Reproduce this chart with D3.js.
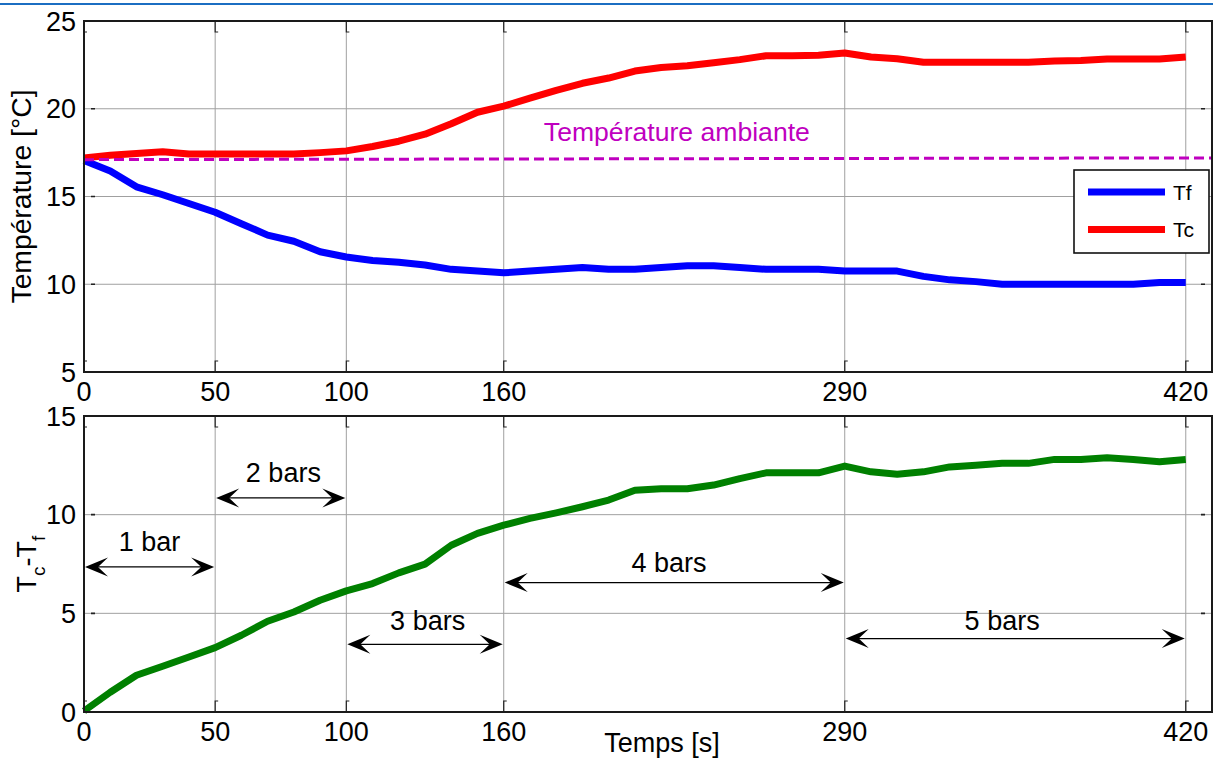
<!DOCTYPE html>
<html>
<head>
<meta charset="utf-8">
<script src="https://cdn.jsdelivr.net/npm/d3@7"></script>
<style>
  html, body { margin: 0; padding: 0; background: #fff; }
  svg { display: block; font-family: "Liberation Sans", Arial, Helvetica, sans-serif; }
</style>
</head>
<body>
<svg id="chart" width="1213" height="758"></svg>
<script>
// Sample times [s]
const time = [0, 10, 20, 30, 40, 50, 60, 70, 80, 90, 100, 110, 120, 130, 140, 150, 160, 170, 180, 190, 200,
  210, 220, 230, 240, 250, 260, 270, 280, 290, 300, 310, 320, 330, 340, 350, 360, 370, 380, 390, 400, 410, 420];

// Cold side temperature Tf [°C]
const tempFroide = [17.05, 16.45, 15.55, 15.1, 14.6, 14.1, 13.45, 12.8, 12.45, 11.85, 11.55, 11.35, 11.25, 11.1,
  10.85, 10.75, 10.65, 10.75, 10.85, 10.95, 10.85, 10.85, 10.95, 11.05, 11.05, 10.95, 10.85, 10.85, 10.85,
  10.75, 10.75, 10.75, 10.45, 10.25, 10.15, 10.0, 10.0, 10.0, 10.0, 10.0, 10.0, 10.1, 10.1];

// Hot side temperature Tc [°C]
const tempChaude = [17.2, 17.35, 17.45, 17.55, 17.42, 17.42, 17.42, 17.42, 17.42, 17.5, 17.6, 17.85, 18.15, 18.55,
  19.15, 19.8, 20.15, 20.6, 21.05, 21.45, 21.75, 22.15, 22.35, 22.45, 22.62, 22.8, 23.02, 23.02, 23.05,
  23.18, 22.95, 22.85, 22.65, 22.65, 22.65, 22.65, 22.65, 22.72, 22.75, 22.84, 22.84, 22.84, 22.95];

// Difference Tc - Tf [°C]
const ecart = [0.05, 1.0, 1.86, 2.32, 2.79, 3.26, 3.89, 4.6, 5.07, 5.66, 6.14, 6.51, 7.05, 7.49, 8.45, 9.05,
  9.47, 9.81, 10.09, 10.4, 10.74, 11.24, 11.31, 11.31, 11.5, 11.83, 12.12, 12.12, 12.12, 12.46, 12.17, 12.05,
  12.17, 12.42, 12.51, 12.6, 12.6, 12.8, 12.8, 12.88, 12.8, 12.68, 12.8];

// Ambient temperature reference line
const ambianteTime = [0, 430];
const ambianteTemp = [17.1, 17.2];

// Axis ticks
const xTicks = [0, 50, 100, 160, 290, 420];
const yTicksTop = [5, 10, 15, 20, 25];
const yTicksBottom = [0, 5, 10, 15];

// Pressure stages
const pressureLabels = ["1 bar", "2 bars", "3 bars", "4 bars", "5 bars"];
const pressureStart = [0, 50, 100, 160, 290];
const pressureEnd = [50, 100, 160, 290, 420];
const arrowLevel = [7.35, 10.85, 3.43, 6.56, 3.72];
const labelTime = [25, 76, 131, 223, 350];
const labelLevel = [8.15, 11.65, 4.15, 7.1, 4.15];

const svg = d3.select("#chart");
const W = 1213;

// Thin header rule
svg.append("line").attr("x1", 0).attr("x2", W).attr("y1", 4).attr("y2", 4)
  .attr("stroke", "#1b6ec2").attr("stroke-width", 2);

const x = d3.scaleLinear().domain([0, 430]).range([84, 1212]);
const yTop = d3.scaleLinear().domain([5, 25]).range([372, 21]);
const yBot = d3.scaleLinear().domain([0, 15]).range([712, 416]);

const FONT = 27;

function panel(y, yTicks) {
  const [y0, y1] = y.range();
  const [x0, x1] = x.range();
  const g = svg.append("g");
  // grid
  g.append("g").selectAll("line").data(xTicks).join("line")
    .attr("x1", d => x(d)).attr("x2", d => x(d)).attr("y1", y1).attr("y2", y0)
    .attr("stroke", "#a0a0a0").attr("stroke-width", 1);
  g.append("g").selectAll("line").data(yTicks).join("line")
    .attr("x1", x0).attr("x2", x1).attr("y1", d => y(d)).attr("y2", d => y(d))
    .attr("stroke", "#a0a0a0").attr("stroke-width", 1);
  return g;
}

function frame(y, yTicks) {
  const [y0, y1] = y.range();
  const [x0, x1] = x.range();
  const g = svg.append("g");
  const tl = 11;
  // inward tick marks
  g.append("g").selectAll("path").data(xTicks).join("path")
    .attr("d", d => `M${x(d) + 3},${y0 - tl}h-3v${tl} M${x(d) + 3},${y1 + tl}h-3v${-tl}`)
    .attr("fill", "none").attr("stroke", "#222").attr("stroke-width", 1.2);
  g.append("g").selectAll("path").data(yTicks).join("path")
    .attr("d", d => `M${x0 + tl - 4},${y(d)}h4 M${x1 - tl},${y(d)}h4`)
    .attr("fill", "none").attr("stroke", "#222").attr("stroke-width", 1.6);
  g.append("rect").attr("x", x0).attr("y", y1).attr("width", x1 - x0).attr("height", y0 - y1)
    .attr("fill", "none").attr("stroke", "#1a1a1a").attr("stroke-width", 2);
  // tick labels
  g.append("g").selectAll("text").data(xTicks).join("text")
    .attr("x", d => x(d)).attr("y", y0 + 29).attr("text-anchor", "middle")
    .attr("font-size", FONT).attr("fill", "#000").text(d => d);
  g.append("g").selectAll("text").data(yTicks).join("text")
    .attr("x", 76).attr("y", d => y(d)).attr("dy", "0.36em").attr("text-anchor", "end")
    .attr("font-size", FONT).attr("fill", "#000").text(d => d);
}

// ---------- top panel : temperatures ----------
panel(yTop, yTicksTop);

const lineTop = d3.line().x((d, i) => x(time[i])).y(d => yTop(d)).curve(d3.curveLinear);
svg.append("path").datum(tempFroide).attr("d", lineTop)
  .attr("fill", "none").attr("stroke", "#0000ff").attr("stroke-width", 7)
  .attr("stroke-linejoin", "round");
svg.append("path").datum(tempChaude).attr("d", lineTop)
  .attr("fill", "none").attr("stroke", "#ff0000").attr("stroke-width", 7)
  .attr("stroke-linejoin", "round");

const lineAmb = d3.line().x((d, i) => x(ambianteTime[i])).y(d => yTop(d));
svg.append("path").datum(ambianteTemp).attr("d", lineAmb)
  .attr("fill", "none").attr("stroke", "#bf00bf").attr("stroke-width", 3)
  .attr("stroke-dasharray", "10,5");

svg.append("text").attr("x", x(226)).attr("y", yTop(18.15))
  .attr("text-anchor", "middle").attr("font-size", 26).attr("fill", "#bf00bf")
  .attr("textLength", 266).attr("lengthAdjust", "spacingAndGlyphs")
  .text("Température ambiante");

frame(yTop, yTicksTop);

// legend
const leg = svg.append("g");
leg.append("rect").attr("x", 1074).attr("y", 170).attr("width", 135).attr("height", 83)
  .attr("fill", "#fff").attr("stroke", "#111").attr("stroke-width", 1.6);
const legendItems = [{ name: "Tf", color: "#0000ff" }, { name: "Tc", color: "#ff0000" }];
legendItems.forEach((it, i) => {
  const cy = 192 + i * 37.5;
  leg.append("line").attr("x1", 1088).attr("x2", 1165).attr("y1", cy).attr("y2", cy)
    .attr("stroke", it.color).attr("stroke-width", 7);
  leg.append("text").attr("x", 1173).attr("y", cy + 7.5).attr("font-size", 21)
    .attr("fill", "#000").text(it.name);
});

// Y label top
svg.append("text")
  .attr("transform", `translate(31,${(yTop.range()[0] + yTop.range()[1]) / 2}) rotate(-90)`)
  .attr("text-anchor", "middle").attr("font-size", FONT).attr("fill", "#000")
  .attr("textLength", 214).attr("lengthAdjust", "spacingAndGlyphs")
  .text("Température [°C]");

// ---------- bottom panel : difference ----------
panel(yBot, yTicksBottom);

const lineBot = d3.line().x((d, i) => x(time[i])).y(d => yBot(d));
svg.append("path").datum(ecart).attr("d", lineBot)
  .attr("fill", "none").attr("stroke", "#008000").attr("stroke-width", 7)
  .attr("stroke-linejoin", "round");

// pressure stage arrows
function headPath(tipX, tipY, dir) {
  const L = 23, H = 9.5, N = 13;
  return `M${tipX},${tipY} L${tipX + dir * L},${tipY - H} L${tipX + dir * N},${tipY} L${tipX + dir * L},${tipY + H} Z`;
}
const ann = svg.append("g");
pressureLabels.forEach((lab, i) => {
  const xa = x(pressureStart[i]) + 1, xb = x(pressureEnd[i]) - 1, ya = yBot(arrowLevel[i]);
  ann.append("line").attr("x1", xa + 8).attr("x2", xb - 8).attr("y1", ya).attr("y2", ya)
    .attr("stroke", "#000").attr("stroke-width", 1.2);
  ann.append("path").attr("d", headPath(xa, ya, 1)).attr("fill", "#000");
  ann.append("path").attr("d", headPath(xb, ya, -1)).attr("fill", "#000");
  ann.append("text").attr("x", x(labelTime[i])).attr("y", yBot(labelLevel[i]))
    .attr("text-anchor", "middle").attr("font-size", FONT).attr("fill", "#000").text(lab);
});

frame(yBot, yTicksBottom);

// Y label bottom : Tc - Tf with subscripts
const yl = svg.append("text")
  .attr("transform", `translate(36,${(yBot.range()[0] + yBot.range()[1]) / 2}) rotate(-90)`)
  .attr("text-anchor", "middle").attr("font-size", FONT).attr("fill", "#000");
yl.append("tspan").text("T");
yl.append("tspan").attr("font-size", 19).attr("dy", 9).text("c");
yl.append("tspan").attr("dy", -9).text("-T");
yl.append("tspan").attr("font-size", 19).attr("dy", 9).text("f");

// X label
svg.append("text").attr("x", 662).attr("y", 752).attr("text-anchor", "middle")
  .attr("font-size", FONT).attr("fill", "#000").text("Temps [s]");
</script>
</body>
</html>
